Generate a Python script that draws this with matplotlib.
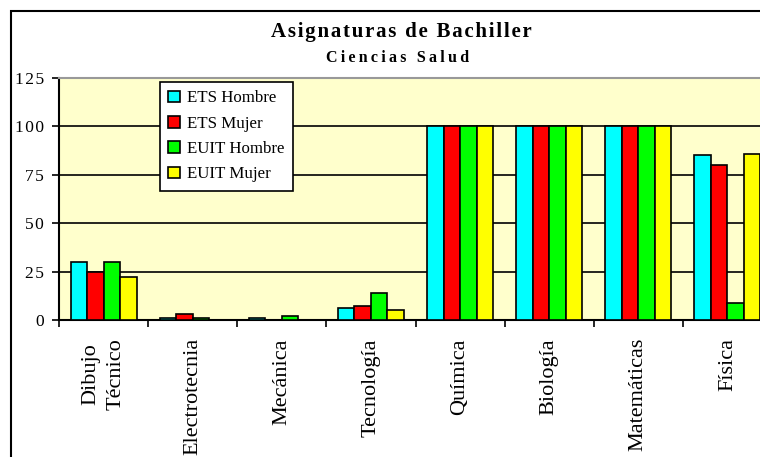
import matplotlib.pyplot as plt
import numpy as np
from matplotlib.patches import Rectangle

plt.rcParams['font.family'] = ['Liberation Serif', 'DejaVu Serif']

categories = ['Dibujo\nTécnico', 'Electrotecnia', 'Mecánica', 'Tecnología',
              'Química', 'Biología', 'Matemáticas', 'Física']
series_names = ['ETS Hombre', 'ETS Mujer', 'EUIT Hombre', 'EUIT Mujer']
ets_hombre = [30, 1, 1, 6, 100, 100, 100, 85]
ets_mujer = [25, 3, 0, 7, 100, 100, 100, 80]
euit_hombre = [30, 1, 2, 14, 100, 100, 100, 9]
euit_mujer = [22, 0, 0, 5, 100, 100, 100, 86]
y_ticks = [0, 25, 50, 75, 100, 125]
colors = ['#00FFFF', '#FF0000', '#00FF00', '#FFFF00']


def spaced(s, sep):
    # spread the letters a bit, like the original chart
    return sep.join(s)


fig = plt.figure(figsize=(7.6, 4.57), dpi=100)
fig.patches.append(Rectangle((11/760, -0.1), 1.2, 1 - 11/457 + 0.1,
                             transform=fig.transFigure, fill=False,
                             ec='k', lw=1.5, zorder=0))

ax = fig.add_axes([59/760, 1 - 320/457, 713/760, 242/457])
ax.set_facecolor('#FFFFCC')

x = np.arange(len(categories))
width = 0.185
data = [ets_hombre, ets_mujer, euit_hombre, euit_mujer]
for i, vals in enumerate(data):
    ax.bar(x + (i - 1.5) * width, vals, width=width, color=colors[i],
           edgecolor='k', linewidth=1.2, label=series_names[i], zorder=3)

ax.set_xlim(-0.5, len(categories) - 0.5)
ax.set_ylim(0, 125)
ax.set_yticks(y_ticks)
ax.set_yticklabels([spaced(str(v), '\u200a') for v in y_ticks], fontsize=12.5)
ax.yaxis.grid(True, color='k', linewidth=1.2, zorder=1)
ax.set_axisbelow(True)

ax.set_xticks(np.arange(len(categories) + 1) - 0.5)
ax.set_xticklabels([])
ax.set_xticks(x, minor=True)
ax.set_xticklabels(categories, minor=True, rotation=90, fontsize=16,
                   va='top', ha='center', linespacing=1.45)
ax.tick_params(axis='x', which='minor', length=0, pad=13)
ax.tick_params(axis='x', which='major', length=5, width=1.2, direction='out')
ax.tick_params(axis='y', length=5, width=1.2, pad=6)

for s in ['left', 'bottom']:
    ax.spines[s].set_linewidth(1.5)
ax.spines['top'].set_color('#999999')
ax.spines['top'].set_linewidth(1.5)
ax.spines['right'].set_visible(False)

fig.text(401/760, 1 - 32/457, spaced('Asignaturas de Bachiller', '\u200a'),
         ha='center', va='center', fontsize=15, fontweight='bold')
fig.text(398/760, 1 - 58/457, spaced('Ciencias Salud', '\u2009'),
         ha='center', va='center', fontsize=11.5, fontweight='bold')

leg = ax.legend(loc='upper left', bbox_to_anchor=(160/760, 1 - 82/457),
                bbox_transform=fig.transFigure, fontsize=12.2, frameon=True,
                fancybox=False, edgecolor='k', framealpha=1,
                handlelength=0.7, handleheight=0.7, handletextpad=0.4,
                labelspacing=0.55, borderpad=0.5, borderaxespad=0)
leg.get_frame().set_linewidth(1.2)
leg.set_zorder(5)

fig.savefig('out.png', dpi=100)
